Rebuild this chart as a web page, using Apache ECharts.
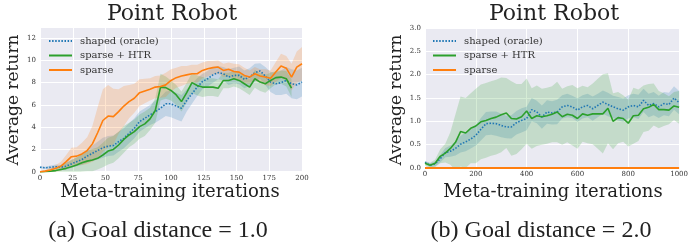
<!DOCTYPE html>
<html><head><meta charset="utf-8">
<script src="https://cdn.jsdelivr.net/npm/echarts@6/dist/echarts.min.js"></script>
<style>html,body{margin:0;padding:0;background:#fff}#c{width:691px;height:242px}</style>
</head><body><div id="c"></div>
<script>
// ---------- Left panel: goal distance 1.0 ----------
const xLeft = [0,4,8,12,16,20,24,28,32,36,40,44,48,52,56,60,64,68,72,76,80,84,88,92,96,100,104,108,112,116,120,124,128,132,136,140,144,148,152,156,160,164,168,172,176,180,184,188,192,196,200];
const shapedLeft = [0.4,0.35,0.4,0.45,0.4,0.5,0.7,0.9,1.1,1.4,1.65,1.9,2.15,2.3,2.35,2.7,3.0,3.45,3.9,4.5,4.8,5.1,5.4,5.7,6.1,6.1,5.9,5.7,6.4,7.0,7.6,8.1,8.35,8.7,8.9,8.8,8.5,8.65,8.65,8.3,8.5,8.9,9.05,8.6,8.05,7.9,8.0,8.2,7.9,7.8,8.05];
const shapedLeftSd = [0.1,0.1,0.15,0.2,0.2,0.3,0.35,0.4,0.5,0.6,0.7,0.8,0.9,0.9,0.9,0.9,0.9,0.9,0.9,0.9,0.9,0.9,1.0,1.0,1.1,1.2,1.2,1.2,1.0,0.9,0.8,0.7,0.7,0.7,0.6,0.6,0.7,0.7,0.8,0.8,0.8,0.8,0.7,0.8,0.9,1.0,1.1,1.2,1.3,1.3,1.3];
const htrLeft = [0,0.02,0.05,0.1,0.2,0.3,0.45,0.6,0.8,0.95,1.05,1.2,1.5,1.85,2.0,2.4,2.9,3.3,3.6,4.05,4.3,4.75,5.5,7.6,7.55,7.3,6.9,6.3,7.1,8.0,7.75,7.6,7.6,7.6,7.5,8.2,8.2,8.35,8.2,7.9,7.6,8.35,8.05,7.9,8.2,8.45,8.5,8.35,7.5,null,null];
const htrLeftSd = [0.05,0.1,0.2,0.3,0.4,0.5,0.6,0.7,0.8,0.9,1.0,1.0,1.1,1.2,1.2,1.2,1.2,1.1,1.1,1.1,1.1,1.0,1.1,1.2,1.0,0.9,0.9,0.9,0.9,0.9,0.9,0.9,0.8,0.8,0.8,0.7,0.7,0.7,0.7,0.7,0.7,0.8,0.8,0.8,0.7,0.6,0.6,0.7,0.8,null,null];
const sparseLeft = [0,0.05,0.15,0.3,0.5,0.9,1.35,1.4,1.6,1.9,2.5,3.5,4.6,5.0,4.95,5.4,5.9,6.3,6.6,7.1,7.25,7.4,7.6,7.65,7.8,8.2,8.45,8.6,8.7,8.8,8.8,9.1,9.25,9.35,9.4,9.1,9.2,9.0,8.95,8.65,8.5,8.8,8.6,8.5,8.4,8.95,9.5,9.3,8.5,9.4,9.7];
const sparseLeftSd = [0.05,0.1,0.2,0.3,0.4,0.6,0.8,0.8,1.0,1.2,1.6,2.3,2.8,2.8,2.5,2.0,1.8,1.5,1.3,1.2,1.1,1.0,1.0,1.0,1.1,1.0,0.9,0.9,0.8,0.8,0.8,0.7,0.7,0.6,0.6,0.6,0.6,0.7,0.7,0.7,0.6,0.6,0.6,0.7,0.7,0.9,1.1,1.1,1.2,1.4,1.5];

// ---------- Right panel: goal distance 2.0 ----------
const xRight = [0,20,40,60,80,100,120,140,160,180,200,220,240,260,280,300,320,340,360,380,400,420,440,460,480,500,520,540,560,580,600,620,640,660,680,700,720,740,760,780,800,820,840,860,880,900,920,940,960,980,1000];
const shapedRight = [0.12,0.06,0.09,0.2,0.33,0.36,0.42,0.51,0.56,0.62,0.7,0.83,0.95,0.96,0.95,0.91,0.88,0.88,0.97,1.02,1.06,1.25,1.2,1.09,1.2,1.18,1.2,1.31,1.34,1.31,1.24,1.31,1.34,1.27,1.34,1.41,1.36,1.31,1.27,1.24,1.31,1.34,1.31,1.45,1.34,1.38,1.31,1.38,1.36,1.5,1.4];
const shapedRightSd = [0.03,0.04,0.05,0.08,0.1,0.12,0.15,0.18,0.2,0.2,0.22,0.24,0.25,0.25,0.26,0.25,0.24,0.25,0.25,0.26,0.25,0.25,0.24,0.25,0.25,0.25,0.26,0.25,0.25,0.24,0.25,0.25,0.25,0.26,0.25,0.25,0.25,0.24,0.25,0.25,0.25,0.25,0.26,0.25,0.25,0.25,0.24,0.25,0.25,0.25,0.25];
const htrRight = [0.1,0.06,0.1,0.25,0.32,0.42,0.55,0.78,0.75,0.85,0.9,0.99,1.02,1.06,1.09,1.14,1.18,1.06,1.05,1.1,1.22,1.06,1.12,1.1,1.12,1.15,1.2,1.1,1.15,1.13,1.06,1.16,1.13,1.16,1.16,1.16,1.28,1.0,1.08,1.06,0.96,1.12,1.13,1.27,1.3,1.36,1.25,1.25,1.24,1.33,1.3];
const htrRightSd = [0.05,0.05,0.08,0.15,0.2,0.35,0.6,0.75,0.75,0.75,0.8,0.8,0.8,0.8,0.8,0.8,0.75,0.8,0.75,0.7,0.7,0.65,0.65,0.6,0.6,0.6,0.65,0.6,0.6,0.65,0.65,0.6,0.6,0.65,0.75,0.85,0.75,0.6,0.55,0.5,0.5,0.6,0.55,0.5,0.5,0.45,0.4,0.35,0.3,0.3,0.35];
const sparseRight = [0,0,0,0,0,0,0,0,0,0,0,0,0,0,0,0,0,0,0,0,0,0,0,0,0,0,0,0,0,0,0,0,0,0,0,0,0,0,0,0,0,0,0,0,0,0,0,0,0,0,0];

// ---------- Labels ----------
const seriesNames = ['shaped (oracle)', 'sparse + HTR', 'sparse'];
const xTicksLeft = {min:0, max:200, interval:25};
const yTicksLeft = {min:0, max:13, interval:2};
const xTicksRight = {min:0, max:1000, interval:200};
const yTicksRight = {min:0, max:3, interval:0.5};
const panelTitle = 'Point Robot';
const xLabel = 'Meta-training iterations';
const yLabel = 'Average return';
const captions = ['(a) Goal distance = 1.0', '(b) Goal distance = 2.0'];

const C = {blue:'#1f77b4', green:'#2ca02c', orange:'#ff7f0e'};
const BAND = {blue:'rgba(31,119,180,0.2)', green:'rgba(44,160,44,0.2)', orange:'rgba(255,127,14,0.2)'};
const SERIF = '"DejaVu Serif", serif';

function band(xs, ys, sd, fill, g) {
  return {
    type:'custom', xAxisIndex:g, yAxisIndex:g, silent:true, z:1, clip:true,
    data:[[xs[0], ys[0]]],
    renderItem(params, api) {
      const up = [], lo = [];
      for (let i = 0; i < xs.length; i++) {
        if (ys[i] == null) continue;
        up.push(api.coord([xs[i], ys[i] + sd[i]]));
        lo.push(api.coord([xs[i], ys[i] - sd[i]]));
      }
      return {type:'polygon', shape:{points: up.concat(lo.reverse())}, style:{fill: fill}};
    }
  };
}
function line(name, xs, ys, color, g, dotted, width) {
  return {
    type:'line', name, xAxisIndex:g, yAxisIndex:g, z:3, clip:false,
    data: xs.map((x, i) => [x, ys[i]]),
    symbol:'none', showSymbol:false, connectNulls:false,
    lineStyle:{color, width: width || 1.6, type: dotted ? [1.5, 1.6] : 'solid'},
    itemStyle:{color}
  };
}
function xAxis(g, t) {
  return {type:'value', gridIndex:g, min:t.min, max:t.max, interval:t.interval,
    axisLine:{show:false}, axisTick:{show:false},
    splitLine:{show:true, lineStyle:{color:'#ffffff', width:1}},
    axisLabel:{fontFamily:SERIF, fontSize:7, color:'#333', margin:3, hideOverlap:false,
      formatter: v => String(v)}};
}
function yAxis(g, t, dec) {
  return {type:'value', gridIndex:g, min:t.min, max:t.max, interval:t.interval,
    axisLine:{show:false}, axisTick:{show:false},
    splitLine:{show:true, lineStyle:{color:'#ffffff', width:1}},
    axisLabel:{fontFamily:SERIF, fontSize:7, color:'#333', margin:4,
      formatter: v => (v > t.max - 1e-9 && (t.max / t.interval) % 1 !== 0) ? '' : (dec ? v.toFixed(1) : String(v))}};
}
function legend(left) {
  return {left, top:36, orient:'vertical', padding:0, itemWidth:23, itemHeight:10, itemGap:4.5,
    selectedMode:false, data: seriesNames,
    itemStyle:{opacity:0},
    textStyle:{fontFamily:SERIF, fontSize:10, color:'#333', lineHeight:10, padding:[0,0,0,3]}};
}
function text(t, x, y, size, family, rot) {
  return {type:'text', x, y, rotation: rot || 0, silent:true,
    style:{text:t, font: size + 'px ' + family, fill:'#222', textAlign:'center', textVerticalAlign:'middle'}};
}

const chart = echarts.init(document.getElementById('c'), null, {renderer:'canvas'});
chart.setOption({
  animation:false,
  backgroundColor:'#ffffff',
  grid:[
    {left:40, top:27, width:262, height:144.7, show:true, backgroundColor:'#EAEAF2', borderWidth:0},
    {left:425, top:28, width:257, height:140, show:true, backgroundColor:'#EAEAF2', borderWidth:0}
  ],
  xAxis:[xAxis(0, xTicksLeft), xAxis(1, xTicksRight)],
  yAxis:[yAxis(0, yTicksLeft, false), yAxis(1, yTicksRight, true)],
  legend:[legend(48), legend(432)],
  series:[
    band(xLeft, shapedLeft, shapedLeftSd, BAND.blue, 0),
    band(xLeft, htrLeft, htrLeftSd, BAND.green, 0),
    band(xLeft, sparseLeft, sparseLeftSd, BAND.orange, 0),
    line(seriesNames[0], xLeft, shapedLeft, C.blue, 0, true),
    line(seriesNames[1], xLeft, htrLeft, C.green, 0, false),
    line(seriesNames[2], xLeft, sparseLeft, C.orange, 0, false),
    band(xRight, shapedRight, shapedRightSd, BAND.blue, 1),
    band(xRight, htrRight, htrRightSd, BAND.green, 1),
    line(seriesNames[0], xRight, shapedRight, C.blue, 1, true),
    line(seriesNames[1], xRight, htrRight, C.green, 1, false),
    line(seriesNames[2], xRight, sparseRight, C.orange, 1, false, 2)
  ],
  graphic:[
    text(panelTitle, 172, 14, 22, SERIF),
    text(panelTitle, 554, 14, 22, SERIF),
    text(xLabel, 170, 192.5, 18, SERIF),
    text(xLabel, 553, 192.5, 18, SERIF),
    text(yLabel, 14, 100, 17, SERIF, Math.PI / 2),
    text(yLabel, 397, 100, 17, SERIF, Math.PI / 2),
    text(captions[0], 158, 231, 24, '"Liberation Serif", serif'),
    text(captions[1], 541, 231, 24, '"Liberation Serif", serif')
  ]
});
</script></body></html>
